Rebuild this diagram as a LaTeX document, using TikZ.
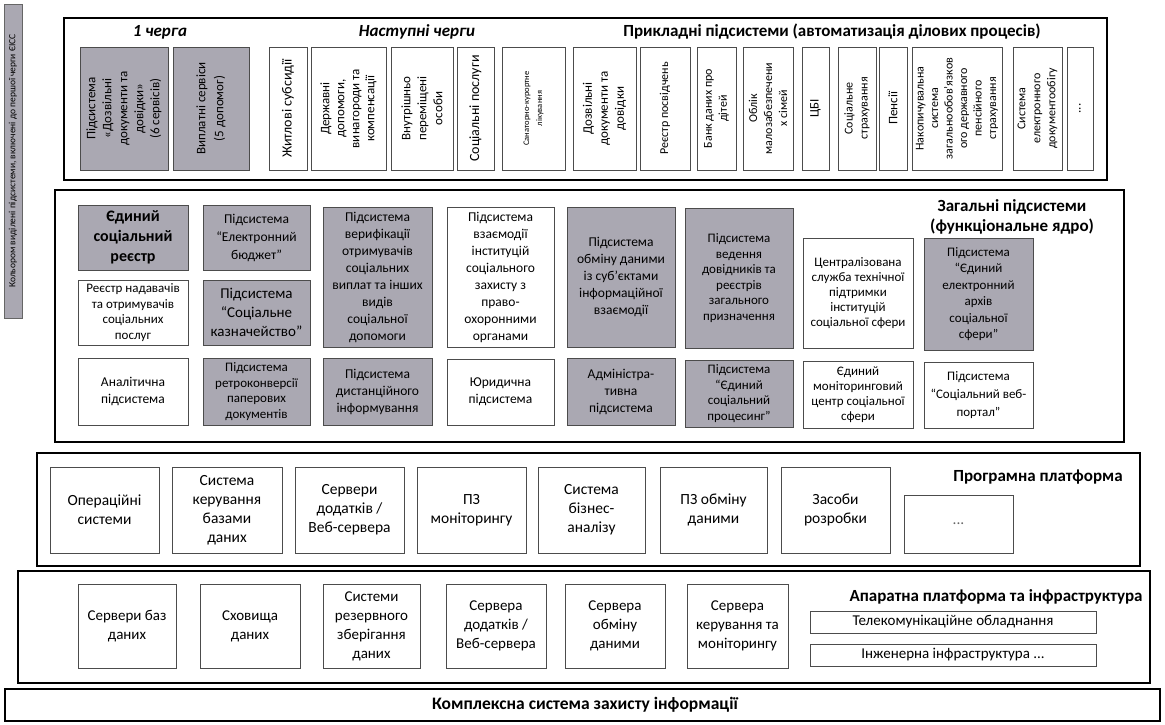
\documentclass[tikz,border=0pt]{standalone}
\usepackage{fontspec}
\setmainfont{Carlito}
\definecolor{qgray}{RGB}{170,168,178}

\begin{document}
\begin{tikzpicture}[x=1pt, y=-1pt,
  layer/.style={draw, line width=2.4pt},
  cellbox/.style={draw=black!70, line width=0.7pt, align=center, inner sep=1pt, font=\fontsize{13.5}{17}\selectfont},
  firstq/.style={cellbox, fill=qgray},
  appbox/.style={cellbox, rotate=90, minimum width=123, font=\fontsize{13}{16}\selectfont},
  headline/.style={font=\bfseries\fontsize{17}{20}\selectfont}]
  \useasboundingbox (0,0) rectangle (1165,724);
  % draw legend strip
  \node[draw=black!60, fill=qgray, rotate=90, minimum width=314, minimum height=18, inner sep=0pt, font=\fontsize{9.5}{11}\selectfont] (legend) at (13,161) {Кольором виділені підсистеми, включені до першої черги ЄІСС};
  % draw applied subsystems layer
  \draw[layer] (64,18) rectangle (1107,180);
  \node[font=\bfseries\itshape\fontsize{17}{20}\selectfont] (queue1) at (160,32) {1 черга};
  \node[font=\bfseries\itshape\fontsize{17}{20}\selectfont] (queuen) at (417,32) {Наступні черги};
  \node[headline] (apptitle) at (832,32) {Прикладні підсистеми (автоматизація ділових процесів)};
  \node[appbox, fill=qgray, minimum height=88] (dozv1) at (124,108.5) {Підсистема\\«Дозвільні\\документи та\\довідки»\\(6 сервісів)};
  \node[appbox, fill=qgray, minimum height=76, font=\fontsize{13}{18}\selectfont] (vypl) at (211,108.5) {Виплатні сервіси\\(5 допомог)};
  \node[appbox, minimum height=38, font=\fontsize{14}{16}\selectfont] (zhytl) at (288,108.5) {Житлові субсидії};
  \node[appbox, minimum height=75, font=\fontsize{13}{15}\selectfont] (derzh) at (348.5,108.5) {Державні\\допомоги,\\винагороди та\\компенсації};
  \node[appbox, minimum height=62] (vpo) at (422,108.5) {Внутрішньо\\переміщені\\особи};
  \node[appbox, minimum height=37, font=\fontsize{14}{16}\selectfont] (socpos) at (475.5,108.5) {Соціальні послуги};
  \node[appbox, minimum height=63, font=\fontsize{8.5}{13}\selectfont] (sanat) at (533.5,108.5) {Санаторно-курортне\\лікування};
  \node[appbox, minimum height=63] (dozv2) at (604.5,108.5) {Дозвільні\\документи та\\довідки};
  \node[appbox, minimum height=50, font=\fontsize{12}{14}\selectfont] (posv) at (665,108.5) {Реєстр посвідчень};
  \node[appbox, minimum height=39, font=\fontsize{12}{15}\selectfont] (dity) at (716.5,108.5) {Банк даних про\\дітей};
  \node[appbox, minimum height=50, font=\fontsize{12}{15}\selectfont] (oblik) at (768,108.5) {Облік\\малозабезпечени\\х сімей};
  \node[appbox, minimum height=27] (cbi) at (815.5,108.5) {ЦБІ};
  \node[appbox, minimum height=38, font=\fontsize{12}{15}\selectfont] (strah) at (857,108.5) {Соціальне\\страхування};
  \node[appbox, minimum height=28] (pens) at (893,108.5) {Пенсії};
  \node[appbox, minimum height=90, font=\fontsize{12}{14.5}\selectfont] (nakop) at (957,108.5) {Накопичувальна\\система\\загальнообов'язков\\ого державного\\пенсійного\\страхування};
  \node[appbox, minimum height=49, font=\fontsize{12}{15}\selectfont] (sed) at (1037.5,108.5) {Система\\електронного\\документообігу};
  \node[appbox, minimum height=26] (moreapp) at (1080,108.5) {...};
  % draw functional core layer
  \draw[layer] (55,190) rectangle (1124,442);
  \node[headline, align=center] (coretitle) at (1012,217) {Загальні підсистеми\\(функціональне ядро)};
  \node[firstq, minimum width=110, minimum height=65, font=\bfseries\fontsize{16}{20}\selectfont] (esr) at (133,237.5) {Єдиний\\соціальний\\реєстр};
  \node[cellbox, minimum width=110, minimum height=65, font=\fontsize{13}{15.5}\selectfont] (nadav) at (133,312.5) {Реєстр надавачів\\та отримувачів\\соціальних\\послуг};
  \node[cellbox, minimum width=110, minimum height=67] (analit) at (133,391.5) {Аналітична\\підсистема};
  \node[firstq, minimum width=107, minimum height=65, font=\fontsize{13.5}{18}\selectfont] (ebud) at (256.5,237.5) {Підсистема\\“Електронний\\бюджет”};
  \node[firstq, minimum width=107, minimum height=65, font=\fontsize{15}{19}\selectfont] (kazn) at (256.5,312.5) {Підсистема\\“Соціальне\\казначейство”};
  \node[firstq, minimum width=107, minimum height=67, font=\fontsize{13}{15.5}\selectfont] (retro) at (256.5,391.5) {Підсистема\\ретроконверсії\\паперових\\документів};
  \node[firstq, minimum width=109, minimum height=140] (veryf) at (377.5,277) {Підсистема\\верифікації\\отримувачів\\соціальних\\виплат та інших\\видів\\соціальної\\допомоги};
  \node[firstq, minimum width=109, minimum height=67] (dyst) at (377.5,391.5) {Підсистема\\дистанційного\\інформування};
  \node[cellbox, minimum width=107, minimum height=140] (vzaem) at (500.5,277.5) {Підсистема\\взаємодії\\інституцій\\соціального\\захисту з\\право-\\охоронними\\органами};
  \node[cellbox, minimum width=107, minimum height=66] (yuryd) at (500.5,392) {Юридична\\підсистема};
  \node[firstq, minimum width=108, minimum height=140] (obmin) at (621,277) {Підсистема\\обміну даними\\із суб'єктами\\інформаційної\\взаємодії};
  \node[firstq, minimum width=108, minimum height=67] (admin) at (621,391.5) {Адміністра-\\тивна\\підсистема};
  \node[firstq, minimum width=108, minimum height=140, font=\fontsize{13}{15.5}\selectfont] (dovid) at (739,278) {Підсистема\\ведення\\довідників та\\реєстрів\\загального\\призначення};
  \node[firstq, minimum width=108, minimum height=67, font=\fontsize{13}{15.5}\selectfont] (proc) at (739,393.5) {Підсистема\\“Єдиний\\соціальний\\процесинг”};
  \node[cellbox, minimum width=110, minimum height=110, font=\fontsize{13}{15}\selectfont] (tehpid) at (858,293) {Централізована\\служба технічної\\підтримки\\інституцій\\соціальної сфери};
  \node[cellbox, minimum width=110, minimum height=67, font=\fontsize{13}{15}\selectfont] (monit) at (858,394.5) {Єдиний\\моніторинговий\\центр соціальної\\сфери};
  \node[firstq, minimum width=109, minimum height=112, font=\fontsize{13}{16.5}\selectfont] (arhiv) at (978.5,294) {Підсистема\\“Єдиний\\електронний\\архів\\соціальної\\сфери”};
  \node[cellbox, minimum width=109, minimum height=66, font=\fontsize{13}{18}\selectfont] (portal) at (978.5,395) {Підсистема\\“Соціальний веб-\\портал”};
  % draw software platform layer
  \draw[layer] (37,453) rectangle (1140,566);
  \node[headline] (softtitle) at (1038,477) {Програмна платформа};
  \node[cellbox, minimum width=109, minimum height=86, font=\fontsize{15.5}{19}\selectfont] (os) at (104.5,510) {Операційні\\системи};
  \node[cellbox, minimum width=110, minimum height=86, font=\fontsize{15.5}{19}\selectfont] (dbms) at (227,510) {Система\\керування\\базами\\даних};
  \node[cellbox, minimum width=109, minimum height=86, font=\fontsize{15.5}{19}\selectfont] (appsrv) at (349.5,510) {Сервери\\додатків /\\Веб-сервера};
  \node[cellbox, minimum width=109, minimum height=86, font=\fontsize{15.5}{19}\selectfont] (monsw) at (471.5,510) {ПЗ\\моніторингу};
  \node[cellbox, minimum width=107, minimum height=86, font=\fontsize{15.5}{19}\selectfont] (bisw) at (591.5,510) {Система\\бізнес-\\аналізу};
  \node[cellbox, minimum width=107, minimum height=86, font=\fontsize{15.5}{19}\selectfont] (xchsw) at (713.5,510) {ПЗ обміну\\даними};
  \node[cellbox, minimum width=109, minimum height=86, font=\fontsize{15.5}{19}\selectfont] (devsw) at (835.5,510) {Засоби\\розробки};
  \node[cellbox, minimum width=109, minimum height=58, font=\fontsize{15.5}{19}\selectfont, text=black!60] (moresw) at (958.5,524) {...};
  % draw hardware layer
  \draw[layer] (18,571) rectangle (1150,683);
  \node[headline] (hwtitle) at (996,597) {Апаратна платформа та інфраструктура};
  \node[cellbox, minimum width=98, minimum height=84, font=\fontsize{15}{19}\selectfont] (dbsrv) at (127,626) {Сервери баз\\даних};
  \node[cellbox, minimum width=100, minimum height=84, font=\fontsize{15}{19}\selectfont] (stor) at (250,626) {Сховища\\даних};
  \node[cellbox, minimum width=97, minimum height=84, font=\fontsize{15}{19}\selectfont] (backup) at (371.5,626) {Системи\\резервного\\зберігання\\даних};
  \node[cellbox, minimum width=100, minimum height=84, font=\fontsize{15}{19}\selectfont] (apphw) at (496,626) {Сервера\\додатків /\\Веб-сервера};
  \node[cellbox, minimum width=100, minimum height=84, font=\fontsize{15}{19}\selectfont] (xchhw) at (615,626) {Сервера\\обміну\\даними};
  \node[cellbox, minimum width=101, minimum height=84, font=\fontsize{15}{19}\selectfont] (monhw) at (737.5,626) {Сервера\\керування та\\моніторингу};
  \node[cellbox, minimum width=286, minimum height=22, font=\fontsize{15}{17}\selectfont] (telecom) at (953,622) {Телекомунікаційне обладнання};
  \node[cellbox, minimum width=286, minimum height=22, font=\fontsize{15}{17}\selectfont] (infra) at (953,655) {Інженерна інфраструктура ...};
  % draw security layer
  \draw[layer] (5,689) rectangle (1160,721);
  \node[font=\bfseries\fontsize{17.5}{20}\selectfont] (kszi) at (585,705) {Комплексна система захисту інформації};
\end{tikzpicture}
\end{document}
